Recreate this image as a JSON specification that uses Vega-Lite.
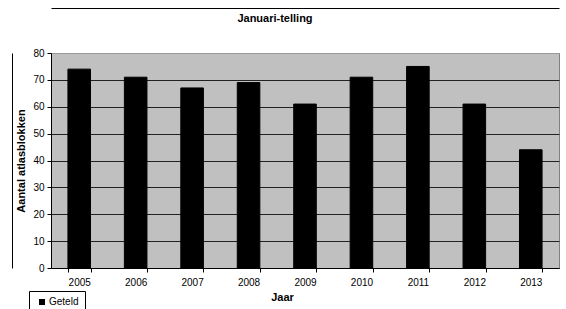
{
  "$schema": "https://vega.github.io/schema/vega-lite/v6.json",
  "width": 508,
  "height": 215,
  "autosize": {"type": "none"},
  "padding": {"left": 51, "top": 53, "right": 7, "bottom": 41},
  "background": "white",
  "title": {
    "text": "Januari-telling",
    "font": "Liberation Sans",
    "fontSize": 11,
    "fontWeight": "bold",
    "color": "black",
    "anchor": "middle",
    "dx": -30,
    "offset": -16
  },
  "data": {
    "values": [
      {"Jaar": "2005", "Aantal": 74, "Serie": "Geteld"},
      {"Jaar": "2006", "Aantal": 71, "Serie": "Geteld"},
      {"Jaar": "2007", "Aantal": 67, "Serie": "Geteld"},
      {"Jaar": "2008", "Aantal": 69, "Serie": "Geteld"},
      {"Jaar": "2009", "Aantal": 61, "Serie": "Geteld"},
      {"Jaar": "2010", "Aantal": 71, "Serie": "Geteld"},
      {"Jaar": "2011", "Aantal": 75, "Serie": "Geteld"},
      {"Jaar": "2012", "Aantal": 61, "Serie": "Geteld"},
      {"Jaar": "2013", "Aantal": 44, "Serie": "Geteld"}
    ]
  },
  "layer": [
    {
      "mark": {"type": "bar", "stroke": "black", "strokeWidth": 1},
      "encoding": {
        "x": {
          "field": "Jaar",
          "type": "ordinal",
          "scale": {"paddingInner": 0.6, "paddingOuter": 0.3},
          "axis": {
            "title": "Jaar",
            "labelAngle": 0,
            "tickBand": "extent",
            "grid": false,
            "domainColor": "black",
            "tickColor": "black",
            "tickSize": 4,
            "labelPadding": 5,
            "titlePadding": 4,
            "titleX": 231
          }
        },
        "y": {
          "field": "Aantal",
          "type": "quantitative",
          "scale": {"domain": [0, 80]},
          "axis": {
            "title": "Aantal atlasblokken",
            "values": [0, 10, 20, 30, 40, 50, 60, 70, 80],
            "grid": true,
            "gridColor": {"condition": {"test": "datum.value == 80", "value": "#999999"}, "value": "#222222"},
            "gridOpacity": 1,
            "domainColor": "black",
            "tickColor": "black",
            "tickSize": 4,
            "labelPadding": 3,
            "titlePadding": 6
          }
        },
        "color": {
          "field": "Serie",
          "type": "nominal",
          "scale": {"range": ["black"]},
          "legend": {
            "title": null,
            "orient": "none",
            "legendX": -22,
            "legendY": 238,
            "strokeColor": "black",
            "padding": 6,
            "symbolType": "square",
            "symbolSize": 36,
            "symbolStrokeWidth": 0,
            "labelFontSize": 10,
            "labelFont": "Liberation Sans",
            "labelColor": "black",
            "labelOffset": 2,
            "symbolOffset": 2,
            "labelLimit": 200
          }
        }
      }
    },
    {
      "mark": {"type": "bar", "opacity": 0},
      "encoding": {
        "x": {
          "field": "Jaar",
          "type": "ordinal",
          "axis": {
            "orient": "top",
            "offset": 45,
            "title": null,
            "labels": false,
            "ticks": false,
            "grid": false,
            "domainColor": "black",
            "domainWidth": 1
          }
        },
        "y": {
          "field": "Aantal",
          "type": "quantitative",
          "axis": {
            "orient": "left",
            "offset": 39,
            "title": null,
            "labels": false,
            "ticks": false,
            "grid": false,
            "domainColor": "black",
            "domainWidth": 1
          }
        }
      }
    }
  ],
  "resolve": {"axis": {"x": "independent", "y": "independent"}},
  "config": {
    "view": {"fill": "#C0C0C0", "stroke": "#808080", "strokeWidth": 1},
    "axis": {
      "labelFont": "Liberation Sans",
      "labelFontSize": 10,
      "labelColor": "black",
      "titleFont": "Liberation Sans",
      "titleFontSize": 11,
      "titleFontWeight": "bold",
      "titleColor": "black"
    }
  }
}
